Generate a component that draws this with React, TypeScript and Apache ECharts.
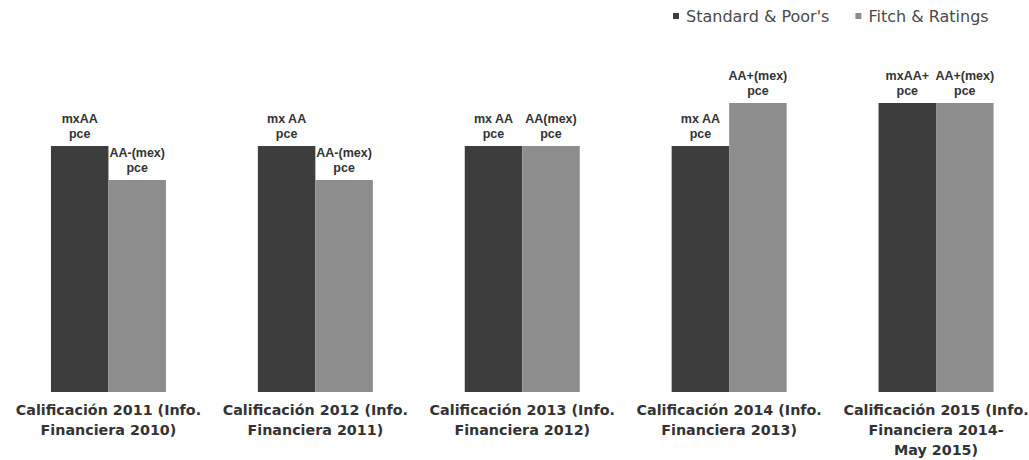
import React, { useEffect, useRef } from "react";
import * as echarts from "echarts";

const categories = [
  "Calificación 2011 (Info.\nFinanciera 2010)",
  "Calificación 2012 (Info.\nFinanciera 2011)",
  "Calificación 2013 (Info.\nFinanciera 2012)",
  "Calificación 2014 (Info.\nFinanciera 2013)",
  "Calificación 2015 (Info.\nFinanciera 2014-\nMay 2015)",
];
const seriesNames = ["Standard & Poor's", "Fitch & Ratings"];
// relative rating level (bar height units)
const spValues = [24.6, 24.6, 24.6, 24.6, 28.9];
const fitchValues = [21.2, 21.2, 24.6, 28.9, 28.9];
const spLabels = ["mxAA\npce", "mx AA\npce", "mx AA\npce", "mx AA\npce", "mxAA+\npce"];
const fitchLabels = ["AA-(mex)\npce", "AA-(mex)\npce", "AA(mex)\npce", "AA+(mex)\npce", "AA+(mex)\npce"];
const yMax = 33.2;

export default function App() {
  const ref = useRef<HTMLDivElement>(null);
  useEffect(() => {
    const chart = echarts.init(ref.current!, null, { renderer: "svg" });
    const labelStyle = (labels: string[]) => ({
      show: true,
      position: "top" as const,
      distance: 5,
      color: "#333",
      fontFamily: "Liberation Sans",
      fontWeight: "bold" as const,
      fontSize: 12.5,
      lineHeight: 15,
      formatter: (p: any) => labels[p.dataIndex],
    });
    chart.setOption({
      animation: false,
      backgroundColor: "#ffffff",
      legend: {
        left: 668,
        top: 3,
        itemWidth: 6,
        itemHeight: 6,
        itemGap: 26,
        icon: "rect",
        textStyle: { fontFamily: "DejaVu Sans", fontSize: 16, color: "#4a4a4a", padding: [0, 0, 0, 2] },
        data: seriesNames,
      },
      grid: { left: 5, right: -10.5, top: 60, bottom: 68, outerBoundsMode: "none", containLabel: false },
      xAxis: {
        type: "category",
        data: categories,
        axisLine: { show: false },
        axisTick: { show: false },
        axisLabel: {
          interval: 0,
          margin: 8,
          color: "#333",
          fontFamily: "DejaVu Sans",
          fontWeight: "bold",
          fontSize: 14.3,
          lineHeight: 20,
          hideOverlap: false,
        },
      },
      yAxis: { type: "value", min: 0, max: yMax, show: false, splitLine: { show: false } },
      series: [
        {
          name: seriesNames[0],
          type: "bar",
          data: spValues,
          barWidth: 57.5,
          barGap: "0%",
          itemStyle: { color: "#3d3d3d" },
          label: labelStyle(spLabels),
        },
        {
          name: seriesNames[1],
          type: "bar",
          data: fitchValues,
          barWidth: 57.5,
          barGap: "0%",
          itemStyle: { color: "#8d8d8d" },
          label: labelStyle(fitchLabels),
        },
      ],
    });
    return () => chart.dispose();
  }, []);
  return (
    <div
      ref={ref}
      style={{ position: "fixed", left: 0, top: 0, width: 1029, height: 460, background: "#fff" }}
    />
  );
}
